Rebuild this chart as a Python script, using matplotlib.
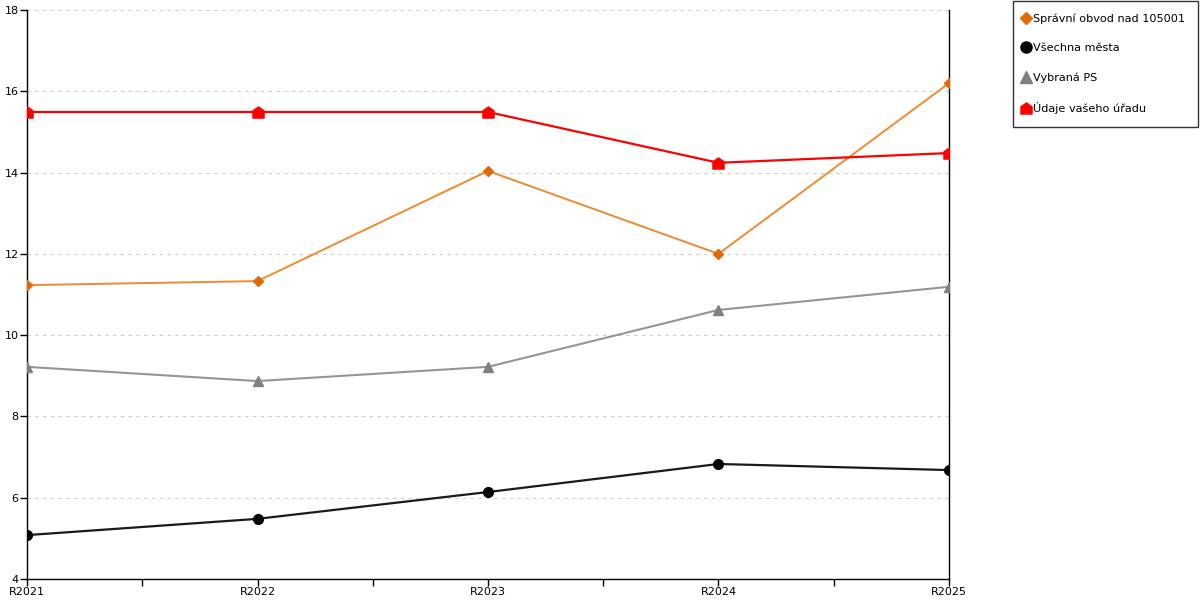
import matplotlib.pyplot as plt
from matplotlib.path import Path
from matplotlib.lines import Line2D

roky = ['R2021', 'R2022', 'R2023', 'R2024', 'R2025']

spravni_obvod = [11.23, 11.33, 14.04, 12.0, 16.2]
vsechna_mesta = [5.08, 5.48, 6.14, 6.83, 6.68]
vybrana_ps = [9.22, 8.87, 9.22, 10.62, 11.19]
vas_urad = [15.49, 15.49, 15.49, 14.24, 14.48]

nazvy = ['Správní obvod nad 105001', 'Všechna města', 'Vybraná PS', 'Údaje vašeho úřadu']

# marker ve tvaru domecku
domek = Path([(-1, -1), (1, -1), (1, 0.3), (0, 1), (-1, 0.3), (-1, -1)],
             [Path.MOVETO, Path.LINETO, Path.LINETO, Path.LINETO, Path.LINETO, Path.CLOSEPOLY])

plt.rcParams['font.family'] = ['DejaVu Sans']
plt.rcParams['font.size'] = 8

fig = plt.figure(figsize=(12, 6), dpi=100)
ax = fig.add_axes([27 / 1200, 21 / 600, 922 / 1200, 569 / 600])

x = list(range(len(roky)))
ax.plot(x, spravni_obvod, color='#F08A30', lw=1.4, marker='D', ms=5.5,
        mfc='#E06A0A', mec='#E06A0A', zorder=3)
ax.plot(x, vsechna_mesta, color='#1a1a1a', lw=1.6, marker='o', ms=7,
        mfc='black', mec='black', zorder=3)
ax.plot(x, vybrana_ps, color='#959595', lw=1.5, marker='^', ms=7,
        mfc='#808080', mec='#808080', zorder=3)
ax.plot(x, vas_urad, color='#FF0000', lw=1.6, marker=domek, ms=8,
        mfc='#FF0000', mec='#FF0000', zorder=4)

ax.set_xlim(0, len(roky) - 1)
ax.set_ylim(4, 18)
ax.set_xticks(x)
ax.set_xticklabels(roky)
ax.set_xticks([i + 0.5 for i in range(len(roky) - 1)], minor=True)
ax.set_yticks(range(4, 19, 2))
ax.tick_params(axis='both', which='both', direction='out', length=5, width=1, pad=1, labelsize=8)
ax.tick_params(axis='x', which='minor', length=5)

ax.grid(axis='y', color='#cccccc', linestyle=(0, (3, 4)), lw=0.8)
ax.set_axisbelow(True)
ax.spines['top'].set_visible(False)
for s in ['left', 'right', 'bottom']:
    ax.spines[s].set_color('black')
    ax.spines[s].set_linewidth(1)

handles = [
    Line2D([], [], ls='none', marker='D', ms=6, color='#E06A0A'),
    Line2D([], [], ls='none', marker='o', ms=8, color='black'),
    Line2D([], [], ls='none', marker='^', ms=8, color='#808080'),
    Line2D([], [], ls='none', marker=domek, ms=8, color='#FF0000'),
]
leg = fig.legend(handles, nazvy, loc='upper left', bbox_to_anchor=(1013 / 1200, 0.999),
                 frameon=True, fancybox=False, edgecolor='black', fontsize=8.1,
                 handlelength=0, handletextpad=0.6, labelspacing=1.7,
                 borderpad=1.15, borderaxespad=0)
leg.get_frame().set_linewidth(1)

fig.savefig('out.png', dpi=100)
